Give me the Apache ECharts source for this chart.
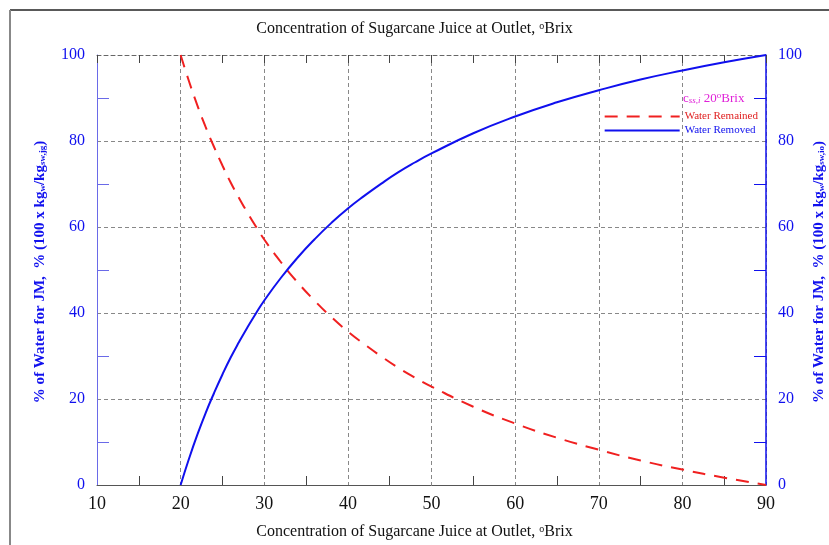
<!DOCTYPE html>
<html><head><meta charset="utf-8">
<script src="https://cdn.jsdelivr.net/npm/echarts@6/dist/echarts.min.js"></script>
<style>html,body{margin:0;padding:0;background:#fff}#c{width:829px;height:545px}</style>
</head><body><div id="c"></div>
<script>
const brix = [20,21,22,23,24,25,26,27,28,29,30,32,34,36,38,40,42,44,46,48,50,55,60,65,70,75,80,85,90];
const waterRemoved = [0,6.1,11.7,16.8,21.4,25.7,29.7,33.3,36.7,39.9,42.9,48.2,52.9,57.1,60.9,64.3,67.3,70.1,72.7,75.0,77.1,81.8,85.7,89.0,91.8,94.3,96.4,98.3,100];
const waterRemained = [100,93.9,88.3,83.2,78.6,74.3,70.3,66.7,63.3,60.1,57.1,51.8,47.1,42.9,39.1,35.7,32.7,29.9,27.3,25.0,22.9,18.2,14.3,11.0,8.2,5.7,3.6,1.7,0];
const xTicks = {min:10, max:90, interval:10};
const yTicks = {min:0, max:100, interval:20};
const titleText = 'Concentration of Sugarcane Juice at Outlet, ';

const serif = '"Liberation Serif","DejaVu Serif",serif';
const BLUE = '#1010ee';
const MAG = '#e020d8';
const chart = echarts.init(document.getElementById('c'));
const remainedPairs = brix.map((b,i)=>[b, waterRemained[i]]);
const removedPairs = brix.map((b,i)=>[b, waterRemoved[i]]);

const ttlRich = {
  t:{fontFamily:serif,fontSize:16,fill:'#111'},
  s:{fontFamily:serif,fontSize:10,fill:'#111',verticalAlign:'top',padding:[0,0,6,0]}
};
function axisName(sub2){
  return {
    text:'{m|% of Water for JM,  % (100 x kg}{s|w}{m|/kg}{s|'+sub2+'}{m|)}',
    rich:{
      m:{fontFamily:serif,fontSize:15,fontWeight:'bold',fill:BLUE},
      s:{fontFamily:serif,fontSize:9,fontWeight:'bold',fill:BLUE,padding:[6,0,0,0]}
    },
    fill:BLUE,
    textAlign:'center', textVerticalAlign:'middle'
  };
}

chart.setOption({
  animation:false,
  backgroundColor:'#fff',
  grid:{left:97,right:63,top:55,bottom:60},
  legend:{
    right:66, top:106, orient:'vertical', itemGap:3, itemWidth:75, itemHeight:10,
    itemStyle:{opacity:0},
    data:[
      {name:'Water Remained', textStyle:{color:'#e02020'}},
      {name:'Water Removed', textStyle:{color:BLUE}}
    ],
    textStyle:{fontFamily:serif,fontSize:11}
  },
  xAxis:[{
    type:'value', min:xTicks.min, max:xTicks.max, interval:xTicks.interval,
    axisLine:{onZero:false,lineStyle:{color:'#555',width:1}},
    axisTick:{show:false,inside:true},
    minorTick:{show:true,splitNumber:2,length:9,lineStyle:{color:'#444'}},
    axisLabel:{color:'#111',fontFamily:serif,fontSize:18,margin:10},
    splitLine:{show:true,lineStyle:{color:'#888',type:[4,3],width:1}}
  },{
    type:'value', position:'top', show:true, gridIndex:0,
    min:xTicks.min, max:xTicks.max, interval:xTicks.interval,
    axisLine:{show:true,onZero:false,lineStyle:{color:'#666',type:[4,3],width:1}},
    axisTick:{show:true,inside:true,length:8,lineStyle:{color:'#444',type:'solid'}},
    minorTick:{show:true,splitNumber:2,length:8,lineStyle:{color:'#444'}},
    axisLabel:{show:false}, splitLine:{show:false}
  }],
  yAxis:[{
    type:'value', min:yTicks.min, max:yTicks.max, interval:yTicks.interval,
    axisLine:{show:true,onZero:false,lineStyle:{color:'#6a6ae8',width:1}},
    axisTick:{show:false,inside:true},
    minorTick:{show:true,splitNumber:2,length:12,lineStyle:{color:'#6a6ae8'}},
    axisLabel:{color:BLUE,fontFamily:serif,fontSize:16,margin:12},
    splitLine:{show:true,lineStyle:{color:'#888',type:[4,3],width:1}}
  },{
    type:'value', position:'right', min:yTicks.min, max:yTicks.max, interval:yTicks.interval,
    axisLine:{show:true,onZero:false,lineStyle:{color:BLUE,width:1.5}},
    axisTick:{show:false,inside:true},
    minorTick:{show:true,splitNumber:2,length:12,lineStyle:{color:BLUE}},
    axisLabel:{color:BLUE,fontFamily:serif,fontSize:16,margin:12},
    splitLine:{show:false}
  }],
  series:[{
    name:'Water Remained', type:'line', data:remainedPairs, smooth:true, symbol:'none',
    lineStyle:{color:'#f02020',width:2,type:[13,9]}, itemStyle:{color:'#f02020'}
  },{
    name:'Water Removed', type:'line', data:removedPairs, smooth:true, symbol:'none',
    lineStyle:{color:BLUE,width:2}, itemStyle:{color:BLUE}
  },{
    name:'topAxisHolder', type:'line', xAxisIndex:1, yAxisIndex:1, data:[], symbol:'none'
  }],
  graphic:[
    {type:'line',shape:{x1:10,y1:10,x2:829,y2:10},style:{stroke:'#222',lineWidth:1.5},silent:true},
    {type:'line',shape:{x1:10,y1:10,x2:10,y2:545},style:{stroke:'#888',lineWidth:2},silent:true},
    {type:'text',left:'center',top:21,style:{text:'{t|'+titleText+'}{s|o}{t|Brix}',rich:ttlRich}},
    {type:'text',left:'center',top:524,style:{text:'{t|'+titleText+'}{s|o}{t|Brix}',rich:ttlRich}},
    {type:'text',x:40,y:272,rotation:Math.PI/2,style:axisName('sw,jg')},
    {type:'text',x:819,y:272,rotation:Math.PI/2,style:axisName('sw,io')},
    {type:'text',x:683,y:91,style:{
      text:'{m|c}{s|ss,i}{m| 20}{u|o}{m|Brix}',
      fill:MAG,
      rich:{
        m:{fontFamily:serif,fontSize:13,fill:MAG},
        s:{fontFamily:serif,fontSize:9,fontStyle:'italic',fill:MAG,padding:[5,0,0,0]},
        u:{fontFamily:serif,fontSize:9,fill:MAG,padding:[0,0,6,0]}
      }
    }}
  ]
});
</script></body></html>
